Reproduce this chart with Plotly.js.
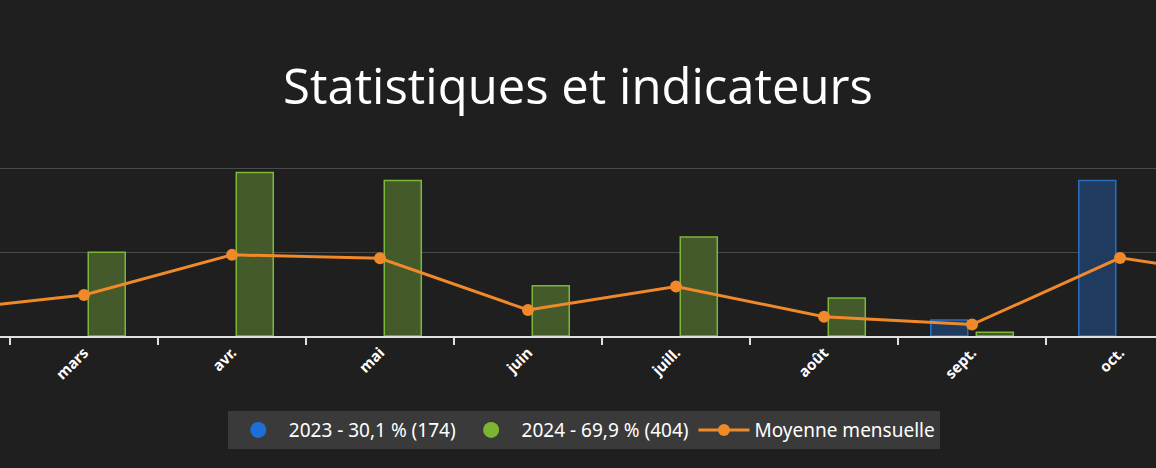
<!DOCTYPE html>
<html>
<head>
<meta charset="utf-8">
<script src="https://cdn.plot.ly/plotly-3.0.1.min.js"></script>
<style>
html,body{margin:0;padding:0;background:#1f1f1f;}
#chart{width:1156px;height:468px;}
</style>
</head>
<body>
<div id="chart"></div>
<script>
const months = ["févr.", "mars", "avr.", "mai", "juin", "juill.", "août", "sept.", "oct.", "nov."];
const values2023 = [null, null, null, null, null, null, null, 9.6, 92.8, null];
const values2024 = [null, 50, 97.5, 92.8, 30, 59, 22.7, 2.2, null, null];
const monthlyAverage = [14.7, 24.5, 48.4, 46.4, 15.5, 29.5, 11.5, 6.8, 46.6, 33.6];
const legend2023 = "2023 - 30,1 % (174)";
const legend2024 = "2024 - 69,9 % (404)";
const legendAvg = "Moyenne mensuelle";
const chartTitle = "Statistiques et indicateurs";

const traces = [
  {type:"bar", x:months, y:values2023, name:legend2023, showlegend:false,
   marker:{color:"#1f3b60", line:{color:"#2a6ec4", width:1.5}}, hoverinfo:"skip"},
  {type:"bar", x:months, y:values2024, name:legend2024, showlegend:false,
   marker:{color:"#445a2a", line:{color:"#7bb83a", width:1.5}}, hoverinfo:"skip"},
  {type:"scatter", mode:"lines+markers", x:months, y:monthlyAverage, name:legendAvg, showlegend:false,
   line:{color:"#f0892a", width:3}, marker:{color:"#f0892a", size:12}, cliponaxis:true},
  {type:"scatter", mode:"markers", x:[null], y:[null], name:legend2023,
   marker:{color:"#1c6fd6", size:20, symbol:"circle"}},
  {type:"scatter", mode:"markers", x:[null], y:[null], name:legend2024,
   marker:{color:"#7cb532", size:20, symbol:"circle"}},
  {type:"scatter", mode:"lines+markers", x:[null], y:[null], name:legendAvg,
   line:{color:"#f0892a", width:3}, marker:{color:"#f0892a", size:12}}
];

const layout = {
  width:1156, height:468,
  paper_bgcolor:"#1f1f1f", plot_bgcolor:"#1f1f1f",
  margin:{l:0, r:0, t:160, b:132, autoexpand:false},
  title:{text:chartTitle, x:0.5, xanchor:"center", y:0.815, yanchor:"middle",
         font:{family:"'Open Sans', sans-serif", size:49, color:"#ffffff", weight:500}},
  barmode:"group", bargap:0.385, bargroupgap:0.187,
  showlegend:true,
  legend:{orientation:"h", x:0.505, xanchor:"center", xref:"paper", yref:"container", y:0.081, yanchor:"middle",
          bgcolor:"#3a3a3a", font:{family:"'Noto Sans', sans-serif", size:19, color:"#ffffff"},
          itemsizing:"trace", traceorder:"normal", itemwidth:51},
  xaxis:{type:"category", range:[0.4324, 8.243], tickson:"boundaries", automargin:false,
         ticks:"outside", ticklen:7, tickwidth:2, tickcolor:"#e0e0e0",
         showline:true, linecolor:"#e0e0e0", linewidth:2,
         tickangle:-45, tickfont:{family:"'Noto Sans', sans-serif", size:15, color:"#ffffff", weight:"bold"},
         showgrid:false, fixedrange:true},
  yaxis:{range:[0, 105], dtick:50, tick0:0, showticklabels:false, ticks:"", automargin:false,
         showgrid:true, gridcolor:"#4a4a4a", gridwidth:1, zeroline:false, showline:false, fixedrange:true}
};

Plotly.newPlot("chart", traces, layout, {displayModeBar:false, staticPlot:true});
</script>
</body>
</html>
